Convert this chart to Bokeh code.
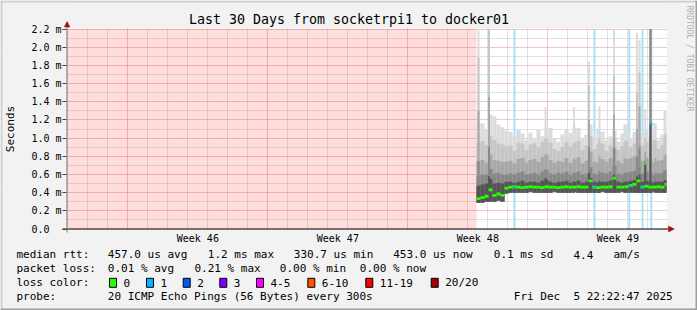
import math
from datetime import datetime, timedelta

from bokeh.plotting import figure
from bokeh.models import Range1d, FixedTicker, CustomJSTickFormatter, Label, BoxAnnotation
from bokeh.embed import file_html
from bokeh.resources import INLINE

# ---------------------------------------------------------------- data
START = datetime(2025, 11, 5, 22, 22, 47)
END = datetime(2025, 12, 5, 22, 22, 47)
TITLE = "Last 30 Days from socketrpi1 to docker01"
Y_LABEL = "Seconds"
WATERMARK = "RRDTOOL / TOBI OETIKER"

WEEK_STARTS = [datetime(2025, 11, 9), datetime(2025, 11, 16),
               datetime(2025, 11, 23), datetime(2025, 11, 30)]
WEEK_LABELS = ["Week 46", "Week 47", "Week 48", "Week 49"]
Y_TICKS = [0.0, 0.2, 0.4, 0.6, 0.8, 1.0, 1.2, 1.4, 1.6, 1.8, 2.0, 2.2]
Y_MINOR = [0.1, 0.3, 0.5, 0.7, 0.9, 1.1, 1.3, 1.5, 1.7, 1.9, 2.1]
Y_TOP = 2.2  # ms

# first measured column (days since START) and column width (days)
DATA_FIRST = 20.5
BIN_DAYS = 0.2

# median rtt (ms) per column
MED = [0.335, 0.345, 0.36, 0.43, 0.37, 0.385, 0.37, 0.45,
       0.46, 0.465, 0.46, 0.455, 0.46, 0.465, 0.46, 0.46, 0.455, 0.465,
       0.46, 0.46, 0.455, 0.46, 0.465, 0.46, 0.46, 0.465, 0.46, 0.46,
       0.53, 0.46, 0.455, 0.46, 0.46, 0.465, 0.56, 0.46, 0.46, 0.465,
       0.48, 0.49, 0.53, 0.46, 0.47, 0.46, 0.46, 0.465, 0.46, 0.49]
# smoke: lowest ping and band tops (S1 = slowest ping ... S5 = near median)
LO = [0.29, 0.29, 0.30, 0.30, 0.30, 0.31, 0.30, 0.39,
      0.40, 0.40, 0.40, 0.40, 0.40, 0.41, 0.40, 0.40, 0.40, 0.40,
      0.40, 0.41, 0.40, 0.40, 0.40, 0.40, 0.41, 0.40, 0.40, 0.40,
      0.40, 0.40, 0.40, 0.41, 0.40, 0.40, 0.40, 0.40, 0.41, 0.40,
      0.40, 0.40, 0.40, 0.40, 0.40, 0.40, 0.41, 0.40, 0.40, 0.40]
S5 = [0.47, 0.49, 0.50, 0.55, 0.50, 0.51, 0.50, 0.52,
      0.52, 0.51, 0.52, 0.53, 0.51, 0.52, 0.52, 0.51, 0.53, 0.54,
      0.52, 0.51, 0.52, 0.52, 0.53, 0.51, 0.52, 0.53, 0.51, 0.52,
      0.56, 0.52, 0.51, 0.52, 0.52, 0.53, 0.58, 0.52, 0.51, 0.52,
      0.53, 0.54, 0.56, 0.52, 0.53, 0.52, 0.51, 0.52, 0.52, 0.54]
S4 = [0.58, 0.60, 0.60, 0.66, 0.61, 0.62, 0.60, 0.60,
      0.61, 0.60, 0.62, 0.63, 0.60, 0.61, 0.62, 0.60, 0.63, 0.65,
      0.61, 0.60, 0.62, 0.61, 0.63, 0.60, 0.62, 0.63, 0.60, 0.61,
      0.68, 0.61, 0.60, 0.62, 0.61, 0.63, 0.70, 0.61, 0.60, 0.62,
      0.63, 0.64, 0.68, 0.61, 0.63, 0.62, 0.60, 0.61, 0.62, 0.65]
S3 = [0.74, 0.76, 0.73, 0.82, 0.76, 0.75, 0.74, 0.74,
      0.75, 0.72, 0.77, 0.78, 0.73, 0.76, 0.77, 0.74, 0.79, 0.82,
      0.76, 0.73, 0.75, 0.74, 0.78, 0.73, 0.76, 0.79, 0.72, 0.75,
      0.85, 0.74, 0.73, 0.77, 0.74, 0.78, 0.88, 0.75, 0.72, 0.77,
      0.78, 0.80, 0.86, 0.75, 0.79, 0.77, 0.73, 0.75, 0.76, 0.82]
S2 = [0.95, 0.97, 0.92, 1.02, 0.98, 0.94, 0.93, 0.91,
      0.92, 0.86, 0.95, 0.94, 0.87, 0.93, 0.94, 0.90, 0.96, 0.99,
      0.95, 0.88, 0.86, 0.90, 0.96, 0.91, 0.95, 0.97, 0.87, 0.92,
      1.02, 0.88, 0.93, 0.94, 0.86, 0.92, 1.00, 0.87, 0.91, 0.97,
      0.90, 0.94, 1.02, 0.92, 0.96, 0.92, 0.98, 0.88, 0.92, 1.05]
S1 = [1.16, 1.16, 1.10, 1.26, 1.24, 1.15, 1.12, 1.08,
      1.07, 1.02, 1.10, 1.05, 0.98, 1.06, 1.00, 1.09, 1.02, 1.12,
      1.11, 1.00, 0.96, 1.04, 1.10, 1.06, 1.12, 1.11, 1.00, 1.04,
      1.15, 1.00, 1.10, 1.07, 0.98, 1.02, 1.08, 0.96, 1.05, 1.15,
      1.00, 1.07, 1.20, 1.05, 1.10, 1.02, 1.16, 0.98, 1.04, 1.30]

# narrow spikes (days since START) with their smoke band tops
SPK_T = [20.6, 21.125, 23.95, 25.375, 26.125, 26.65, 27.375, 27.9,
         28.525, 28.65, 28.935, 29.2, 29.45, 29.9]
SPK_LO = [0.29, 0.30, 0.40, 0.40, 0.40, 0.40, 0.40, 0.40, 0.40, 0.40, 0.40, 0.40, 0.40, 0.40]
SPK_S1 = [2.2, 2.2, 1.34, 1.34, 1.84, 1.35, 2.2, 1.15, 2.16, 2.08, 1.32, 2.2, 1.16, 1.30]
SPK_S2 = [1.89, 2.2, 1.00, 0.95, 1.58, 1.00, 1.69, 0.95, 1.50, 1.72, 1.00, 2.2, 0.95, 1.00]
SPK_S3 = [1.30, 1.45, 0.82, 0.78, 1.20, 0.80, 1.25, 0.78, 1.10, 1.35, 0.85, 2.2, 0.78, 0.80]
SPK_S4 = [0.75, 0.90, 0.66, 0.62, 0.90, 0.64, 0.90, 0.62, 0.80, 0.90, 0.75, 2.2, 0.62, 0.64]
SPK_S5 = [0.48, 0.58, 0.56, 0.52, 0.62, 0.53, 0.60, 0.52, 0.58, 0.60, 0.72, 1.16, 0.52, 0.53]
SPK_MED_T = [28.935]
SPK_MED = [0.72]

# columns with 1/20 packets lost: time and median there
LOSS_T = [22.4, 26.4, 28.135, 28.8, 29.24]
LOSS_MED = [0.46, 0.46, 0.48, 0.465, 1.16]

# legend texts
RTT_STATS = ["457.0 us avg", "1.2 ms max", "330.7 us min", "453.0 us now", "0.1 ms sd", "4.4", "am/s"]
PKT_STATS = ["0.01 % avg", "0.21 % max", "0.00 % min", "0.00 % now"]
LOSS_LABELS = ["0", "1", "2", "3", "4-5", "6-10", "11-19", "20/20"]
LOSS_COLORS = ["#26ff00", "#00b8ff", "#0059ff", "#7e00ff", "#ff00ff", "#ff5500", "#ff0000", "#a10000"]
PROBE = "20 ICMP Echo Pings (56 Bytes) every 300s"
STAMP = "Fri Dec \u00a05 22:22:47 2025"

# ---------------------------------------------------------------- layout / style
FONT = "DejaVu Sans Mono"
BG = "#f2f2f2"
MGRID = "#de9090"
GRID = "#c4c4c4"
ARROW = "#a01010"
SMOKE = ["#dcdcdc", "#c6c6c6", "#a8a8a8", "#888888", "#555555"]
LOSS_BAR = "#a8e2fa"

W, H = 697, 310
PX_DAY = 20.0
PX_MS = 200.0 / 2.2
X0, Y0 = 66.0, 228.5


def px_x(px):
    return (px - X0) / PX_DAY


def px_y(py):
    return (Y0 - py) / PX_MS


def days(dt):
    return (dt - START).total_seconds() / 86400.0


week_start_d = [days(d) for d in WEEK_STARTS]
week_mid = [d + 3.5 for d in week_start_d]
midnights = []
d = datetime(2025, 11, 6)
while d < END:
    if d not in WEEK_STARTS:
        midnights.append(days(d))
    d += timedelta(days=1)
t_end = days(END)

# the frame spans the whole picture; axes sit at fixed data locations
p = figure(width=W, height=H, title=None, tools="", toolbar_location=None,
           output_backend="svg",
           x_range=Range1d(px_x(0), px_x(W)), y_range=Range1d(px_y(H), px_y(0)),
           min_border=0, min_border_left=0, min_border_right=0,
           min_border_top=0, min_border_bottom=0)
p.background_fill_color = "white"
p.border_fill_color = BG
p.outline_line_color = None

# axes
xa = p.xaxis[0]
xa.fixed_location = 0
xa.ticker = FixedTicker(ticks=week_mid, minor_ticks=[])
xa.formatter = CustomJSTickFormatter(
    args=dict(pos=week_mid, labs=WEEK_LABELS),
    code="const i = pos.findIndex((t) => Math.abs(t - tick) < 1e-6); return i < 0 ? '' : labs[i];")
xa.axis_line_color = None
xa.major_tick_line_color = None
xa.minor_tick_line_color = None
xa.major_tick_in = 0
xa.major_tick_out = 0
xa.minor_tick_out = 0
xa.major_label_standoff = 4
xa.major_label_text_font = FONT
xa.major_label_text_font_size = "10px"
xa.major_label_text_color = "black"

ya = p.yaxis[0]
ya.fixed_location = 0
ya.ticker = FixedTicker(ticks=Y_TICKS, minor_ticks=[])
ya.formatter = CustomJSTickFormatter(code="return tick < 1e-9 ? '0.0  ' : tick.toFixed(1) + ' m';")
ya.axis_line_color = None
ya.major_tick_in = 0
ya.major_tick_out = 4
ya.minor_tick_out = 0
ya.major_tick_line_color = "#444444"
ya.minor_tick_line_color = None
ya.major_label_standoff = 1
ya.major_label_text_font = FONT
ya.major_label_text_font_size = "10px"
ya.major_label_text_color = "black"

# grids
p.xgrid.ticker = FixedTicker(ticks=week_start_d, minor_ticks=midnights)
p.ygrid.ticker = FixedTicker(ticks=Y_TICKS, minor_ticks=Y_MINOR)
for g in (p.xgrid[0], p.ygrid[0]):
    g.grid_line_color = MGRID
    g.grid_line_dash = "1 1"
    g.minor_grid_line_color = GRID
    g.minor_grid_line_dash = "1 1"

# background outside the graph canvas (covers grid overflow)
e = 0.5
p.quad(left=[-10, -10, -10, t_end + e / PX_DAY], right=[40, 40, 0, 40],
       bottom=[Y_TOP + e / PX_MS, -10, -10, -10], top=[10, -e / PX_MS, 10, 10],
       fill_color=BG, line_color=None)

# unknown (no data) area
p.quad(left=[0], right=[DATA_FIRST], bottom=[0], top=[Y_TOP],
       fill_color="#ff0000", fill_alpha=0.135, line_color=None)

# loss bars
p.quad(left=[t - 0.05 for t in LOSS_T], right=[t + 0.05 for t in LOSS_T],
       bottom=0, top=Y_TOP, fill_color=LOSS_BAR, line_color=None)

# smoke
n = len(MED)
b_left = [DATA_FIRST + BIN_DAYS * i for i in range(n)]
b_right = [min(l + BIN_DAYS, t_end) for l in b_left]
s_left = [t - 0.05 for t in SPK_T]
s_right = [t + 0.05 for t in SPK_T]
for col, base, spk in zip(SMOKE, [S1, S2, S3, S4, S5], [SPK_S1, SPK_S2, SPK_S3, SPK_S4, SPK_S5]):
    p.quad(left=b_left + s_left, right=b_right + s_right,
           bottom=LO + SPK_LO, top=[min(v, Y_TOP) for v in base + spk],
           fill_color=col, line_color=None)

# median
mh = 0.0155
p.quad(left=b_left + [t - 0.04 for t in SPK_MED_T], right=b_right + [t + 0.04 for t in SPK_MED_T],
       bottom=[m - mh for m in MED + SPK_MED], top=[m + mh for m in MED + SPK_MED],
       fill_color=LOSS_COLORS[0], line_color=None)
p.quad(left=[t - 0.05 for t in LOSS_T], right=[t + 0.05 for t in LOSS_T],
       bottom=[m - mh for m in LOSS_MED], top=[m + mh for m in LOSS_MED],
       fill_color=LOSS_COLORS[1], line_color=None)

# axis lines and arrows
p.segment(x0=[px_x(62)], y0=[0], x1=[px_x(668)], y1=[0], line_color="black", line_width=1)
p.segment(x0=[px_x(66.5)], y0=[px_y(232)], x1=[px_x(66.5)], y1=[px_y(26)], line_color="#7a7a7a", line_width=1)
p.patch(x=[px_x(63.8), px_x(69.4), px_x(66.6)], y=[px_y(26.5), px_y(26.5), px_y(21)],
        fill_color=ARROW, line_color=ARROW, line_width=0.5)
p.patch(x=[px_x(668), px_x(668), px_x(673.8)], y=[px_y(225.6), px_y(231.4), px_y(228.5)],
        fill_color=ARROW, line_color=ARROW, line_width=0.5)


def text(s, px, py, size, align="left", angle=0.0, color="black"):
    p.add_layout(Label(x=px_x(px), y=px_y(py), text=s, text_font=FONT,
                       text_font_size=f"{size}px", text_align=align, text_baseline="middle",
                       angle=angle, text_color=color))


text(TITLE, 348.5, 18.5, 13.3, align="center")
text(Y_LABEL, 10, 128.5, 11, align="center", angle=math.pi / 2)
text(WATERMARK, 688.5, 5, 8, angle=-math.pi / 2, color="#b0b0b0")

ROWS = [254.3, 268.3, 282.3, 296.3]
text("median rtt:", 16, ROWS[0], 11)
for s, x in zip(RTT_STATS, [107.3, 207.3, 293.3, 392.7, 493.3, 573, 613]):
    text(s, x, ROWS[0], 11)
text("packet loss:", 16, ROWS[1], 11)
for s, x in zip(PKT_STATS, [107.3, 194, 279.3, 359.3]):
    text(s, x, ROWS[1], 11)
text("loss color:", 16, ROWS[2], 11)
for s, c, x in zip(LOSS_LABELS, LOSS_COLORS, [109, 146, 182.7, 219.3, 256, 307.3, 365.3, 430.7]):
    p.add_layout(BoxAnnotation(left=px_x(x), right=px_x(x + 7), top=px_y(ROWS[2] - 4.5),
                               bottom=px_y(ROWS[2] + 4.5), fill_color=c, fill_alpha=1,
                               line_color="black", line_width=1, line_alpha=1))
    text(s, x + 14, ROWS[2], 11)
text("probe:", 16, ROWS[3], 11)
text(PROBE, 107.3, ROWS[3], 11)
text(STAMP, 513.3, ROWS[3], 11)

# 3d frame of the image
for l, r, t, b, c in [(0, W, 0, 2, "#cfcfcf"), (0, 2, 0, H, "#cfcfcf"),
                      (0, W, H - 2, H, "#9e9e9e"), (W - 2, W, 0, H, "#9e9e9e")]:
    p.add_layout(BoxAnnotation(left=px_x(l), right=px_x(r), top=px_y(t), bottom=px_y(b),
                               fill_color=c, fill_alpha=1, line_color=None))

open("out.html", "w").write(file_html(p, INLINE))
